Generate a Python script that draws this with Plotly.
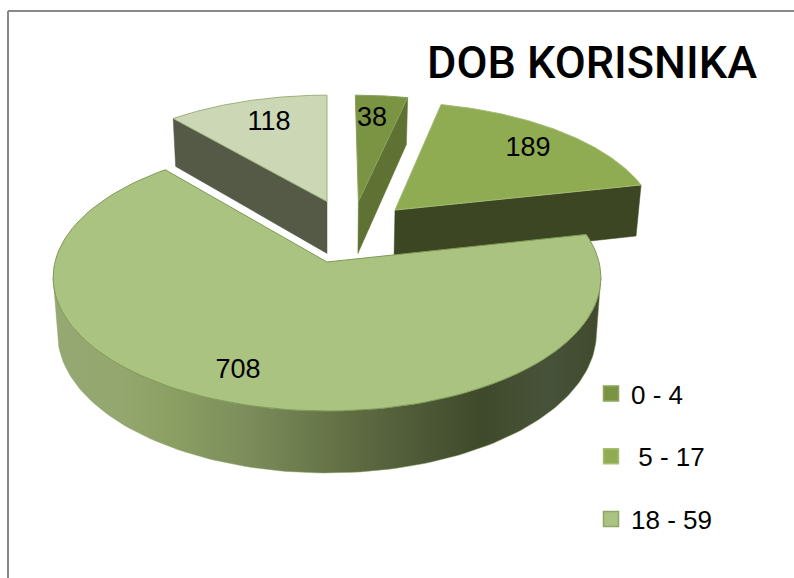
import numpy as np
import plotly.graph_objects as go

# ---- data ----
values = [38, 189, 708, 118]
legend_labels = ["0 - 4", " 5 - 17", "18 - 59"]
title_text = "DOB KORISNIKA"

# ---- styling / layout ----
W, H = 794, 578
top_colors = ["#7a9443", "#8fac52", "#abc380", "#ccd8b5"]
wall_colors = ["#5f7233", "#3c4622", None, "#555a46"]
edge_colors = ["#8aa25c", "#a4bb74", "#7f9a55", "#9db07c"]
swatch_fill = ["#7a9443", "#8fac52", "#abc380"]
swatch_line = ["#8ba65a", "#a6bf70", "#8fa765"]
explode = [(0.122, 0.485), (0.262, 0.413), (0.0, 0.0), (0.0, 0.485)]
label_nudge = [(-3, -6), (14, -5), (-23, 15), (0, -6)]
draw_order = [3, 0, 1, 2]
wall_gradient = [
    [0.0, "#96a873"], [0.12, "#94a76e"], [0.22, "#8b9f63"], [0.36, "#7b8c5a"],
    [0.55, "#5f6c42"], [0.68, "#4c5736"], [0.78, "#3f4a2b"], [0.9, "#47523a"], [1.0, "#3f4a2d"],
]
CX, CY, R, K, P, DEPTH, SHRINK = 327, 262, 272, 131.7, 0.116, 54.8, 0.984
LABEL_R = 0.7
FONT = "Liberation Sans"


def project(X, Z, off=(0, 0), bottom=False):
    X = np.asarray(X, float) + off[0]
    Z = np.asarray(Z, float) + off[1]
    f = 1 / (1 + P * Z)
    x = CX + R * X * f
    y = CY - K * Z * f
    if bottom:
        x = CX + (x - CX) * SHRINK
        y = y + DEPTH * f
    return x, y


def rim(a0, a1, n=120):
    t = np.radians(np.linspace(a0, a1, n))
    return np.sin(t), np.cos(t)


total = sum(values)
edges = np.concatenate([[0], np.cumsum(values)]) / total * 360
fig = go.Figure()

for i in draw_order:
    a0, a1 = edges[i], edges[i + 1]
    off = explode[i]
    if wall_colors[i] is None:
        # curved outer wall with a horizontal shading
        sil = np.degrees(np.arccos(-P))
        X, Z = rim(max(a0, sil), min(a1, 360 - sil))
        xt, yt = project(X, Z, off)
        xb, yb = project(X, Z, off, bottom=True)
        fig.add_trace(go.Scatter(
            x=np.r_[xt, xb[::-1], xt[0]], y=np.r_[yt, yb[::-1], yt[0]],
            mode="lines", line=dict(width=0.5, color="#8da263"), fill="toself",
            fillgradient=dict(type="horizontal", colorscale=wall_gradient),
            showlegend=False, hoverinfo="skip"))
    else:
        # flat cut face running from the slice apex to its visible rim point
        rim_angle = a1 if i in (0, 1) else a0
        X, Z = rim(rim_angle, rim_angle, 1)
        xs, zs = [0, X[0]], [0, Z[0]]
        xt, yt = project(xs, zs, off)
        xb, yb = project(xs, zs, off, bottom=True)
        fig.add_trace(go.Scatter(
            x=np.r_[xt, xb[::-1], xt[0]], y=np.r_[yt, yb[::-1], yt[0]],
            mode="lines", line=dict(width=0.5, color=wall_colors[i]), fill="toself",
            fillcolor=wall_colors[i], showlegend=False, hoverinfo="skip"))
    # top face
    X, Z = rim(a0, a1)
    xt, yt = project(np.r_[0, X, 0], np.r_[0, Z, 0], off)
    fig.add_trace(go.Scatter(
        x=xt, y=yt, mode="lines", line=dict(width=1, color=edge_colors[i]),
        fill="toself", fillcolor=top_colors[i], showlegend=False, hoverinfo="skip"))

# value labels
for i, v in enumerate(values):
    mid = np.radians((edges[i] + edges[i + 1]) / 2)
    x, y = project(LABEL_R * np.sin(mid), LABEL_R * np.cos(mid), explode[i])
    fig.add_trace(go.Scatter(
        x=[float(x) + label_nudge[i][0]], y=[float(y) + label_nudge[i][1]], mode="text",
        text=[str(v)], textposition="middle center",
        textfont=dict(family=FONT, size=27, color="#000000"),
        showlegend=False, hoverinfo="skip"))

# legend entries
for name, fc, lc in zip(legend_labels, swatch_fill, swatch_line):
    fig.add_trace(go.Scatter(
        x=[None], y=[None], mode="markers", name=name, legendgroup=name,
        marker=dict(symbol="square", size=15, color=fc, line=dict(width=1.5, color=lc))))

fig.update_layout(
    width=W, height=H, margin=dict(l=0, r=0, t=0, b=0),
    paper_bgcolor="#ffffff", plot_bgcolor="#ffffff",
    xaxis=dict(range=[0, W], visible=False, fixedrange=True),
    yaxis=dict(range=[H, 0], visible=False, fixedrange=True),
    title=dict(text=title_text, x=427 / W, xanchor="left", xref="paper",
               y=1 - 62 / H, yanchor="middle", yref="paper",
               font=dict(family="Roboto", size=45, weight=500, color="#000000"),
               pad=dict(t=0, b=0, l=0, r=0)),
    legend=dict(x=591 / W, xanchor="left", y=1 - 370 / H, yanchor="top",
                font=dict(family=FONT, size=26, color="#000000"),
                tracegroupgap=26, bgcolor="rgba(0,0,0,0)", itemwidth=30),
    shapes=[
        dict(type="line", xref="paper", yref="paper", x0=8 / W, x1=8 / W, y0=0, y1=1 - 11 / H,
             line=dict(color="#888888", width=2)),
        dict(type="line", xref="paper", yref="paper", x0=8 / W, x1=1, y0=1 - 11 / H, y1=1 - 11 / H,
             line=dict(color="#888888", width=2)),
    ],
)
fig.write_html("out.html", config={"displayModeBar": False},
               post_script="document.body.style.margin='0';document.body.style.overflow='hidden';")
